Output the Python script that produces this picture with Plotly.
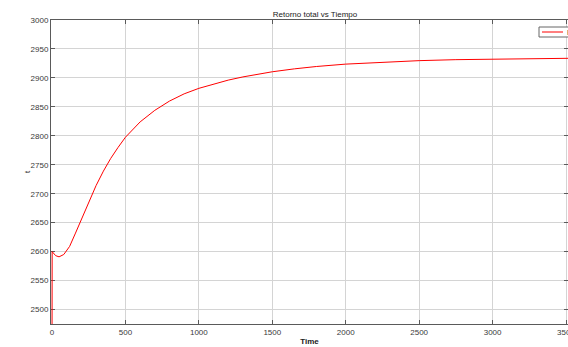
import plotly.graph_objects as go

# Total return over time
tiempo = [0, 1, 25, 48, 80, 120, 160, 200, 250, 300, 350, 400, 450, 500, 600,
          700, 800, 900, 1000, 1100, 1200, 1300, 1400, 1500, 1650, 1800, 2000,
          2250, 2500, 2750, 3000, 3250, 3500, 3600]
retorno = [2400, 2600, 2593, 2591, 2595, 2609, 2632, 2656, 2686, 2714, 2739,
           2761, 2780, 2797.5, 2824, 2844, 2860, 2872.5, 2882, 2889.6, 2896.2,
           2901.7, 2906.5, 2910.6, 2915.6, 2919.7, 2923.8, 2927.4, 2929.8,
           2931.5, 2932.6, 2933.4, 2933.9, 2934.1]
serie = "Retorno"

x_ticks = [0, 500, 1000, 1500, 2000, 2500, 3000, 3500]
y_ticks = [2500, 2550, 2600, 2650, 2700, 2750, 2800, 2850, 2900, 2950, 3000]

W, H = 568, 347
ML, MR, MT, MB = 51, 0, 20, 23
FONT = "Liberation Sans, Arial, sans-serif"
AXIS_COLOR = "#5a5a5a"
GRID_COLOR = "#d4d4d4"
TEXT_COLOR = "#3a3a3a"
TITLE_COLOR = "#222222"
LINE_RED = "#ff0000"

fig = go.Figure()
fig.add_trace(go.Scatter(
    x=tiempo, y=retorno, mode="lines", name=serie, showlegend=False,
    line=dict(color=LINE_RED, width=1, shape="linear"),
))

axis_common = dict(
    showline=True, linecolor=AXIS_COLOR, linewidth=1, mirror="ticks",
    ticks="inside", ticklen=4, tickcolor=AXIS_COLOR, tickwidth=1,
    showgrid=True, gridcolor=GRID_COLOR, gridwidth=1, zeroline=False,
    layer="below traces", automargin=False, ticklabeloverflow="allow",
    tickfont=dict(family=FONT, size=8, color=TEXT_COLOR),
)

# plot area spans x pixels 51..568; 3500 sits at about x = 565,
# and the range starts a pixel before 0 so the t=0 segment stays visible
pw = W - ML - MR
ph = H - MT - MB
px_per_unit = 514 / 3500
x_min = -1.0 / px_per_unit
x_max = x_min + pw / px_per_unit

# legend box, drawn in paper coordinates and running off the right edge
lx0 = (539 - ML) / pw
lx1 = 1.08
ly0 = 1 - (37 - MT) / ph
ly1 = 1 - (27 - MT) / ph
lym = (ly0 + ly1) / 2
fig.add_shape(type="rect", xref="paper", yref="paper",
              x0=lx0, x1=lx1, y0=ly0, y1=ly1,
              line=dict(color="#666666", width=1), fillcolor="white")
fig.add_shape(type="line", xref="paper", yref="paper",
              x0=(542 - ML) / pw, x1=(563 - ML) / pw, y0=lym, y1=lym,
              line=dict(color=LINE_RED, width=1))
fig.add_annotation(text=serie, xref="paper", yref="paper",
                   x=(565 - ML) / pw, y=lym, xanchor="left", yanchor="middle",
                   showarrow=False,
                   font=dict(family=FONT, size=8, color=TITLE_COLOR))

# y-axis label
fig.add_annotation(text="t", xref="paper", yref="paper",
                   x=(27 - ML) / pw, y=0.5, xanchor="center", yanchor="middle",
                   textangle=-90, showarrow=False,
                   font=dict(family=FONT, size=8, color=TITLE_COLOR))

fig.update_layout(
    width=W, height=H,
    margin=dict(l=ML, r=MR, t=MT, b=MB),
    paper_bgcolor="white", plot_bgcolor="white",
    font=dict(family=FONT, size=8, color=TEXT_COLOR),
    title=dict(text="Retorno total vs Tiempo", x=315 / W,
               xanchor="center", y=1 - 14 / H, yanchor="middle",
               font=dict(family=FONT, size=8, color=TITLE_COLOR)),
    xaxis=dict(range=[x_min, x_max], tickvals=x_ticks,
               title=dict(text="<b>Time</b>", standoff=2,
                          font=dict(family=FONT, size=8, color=TITLE_COLOR)),
               **axis_common),
    yaxis=dict(range=[2475, 3000], tickvals=y_ticks, **axis_common),
    showlegend=False,
)

fig.write_html("out.html")
